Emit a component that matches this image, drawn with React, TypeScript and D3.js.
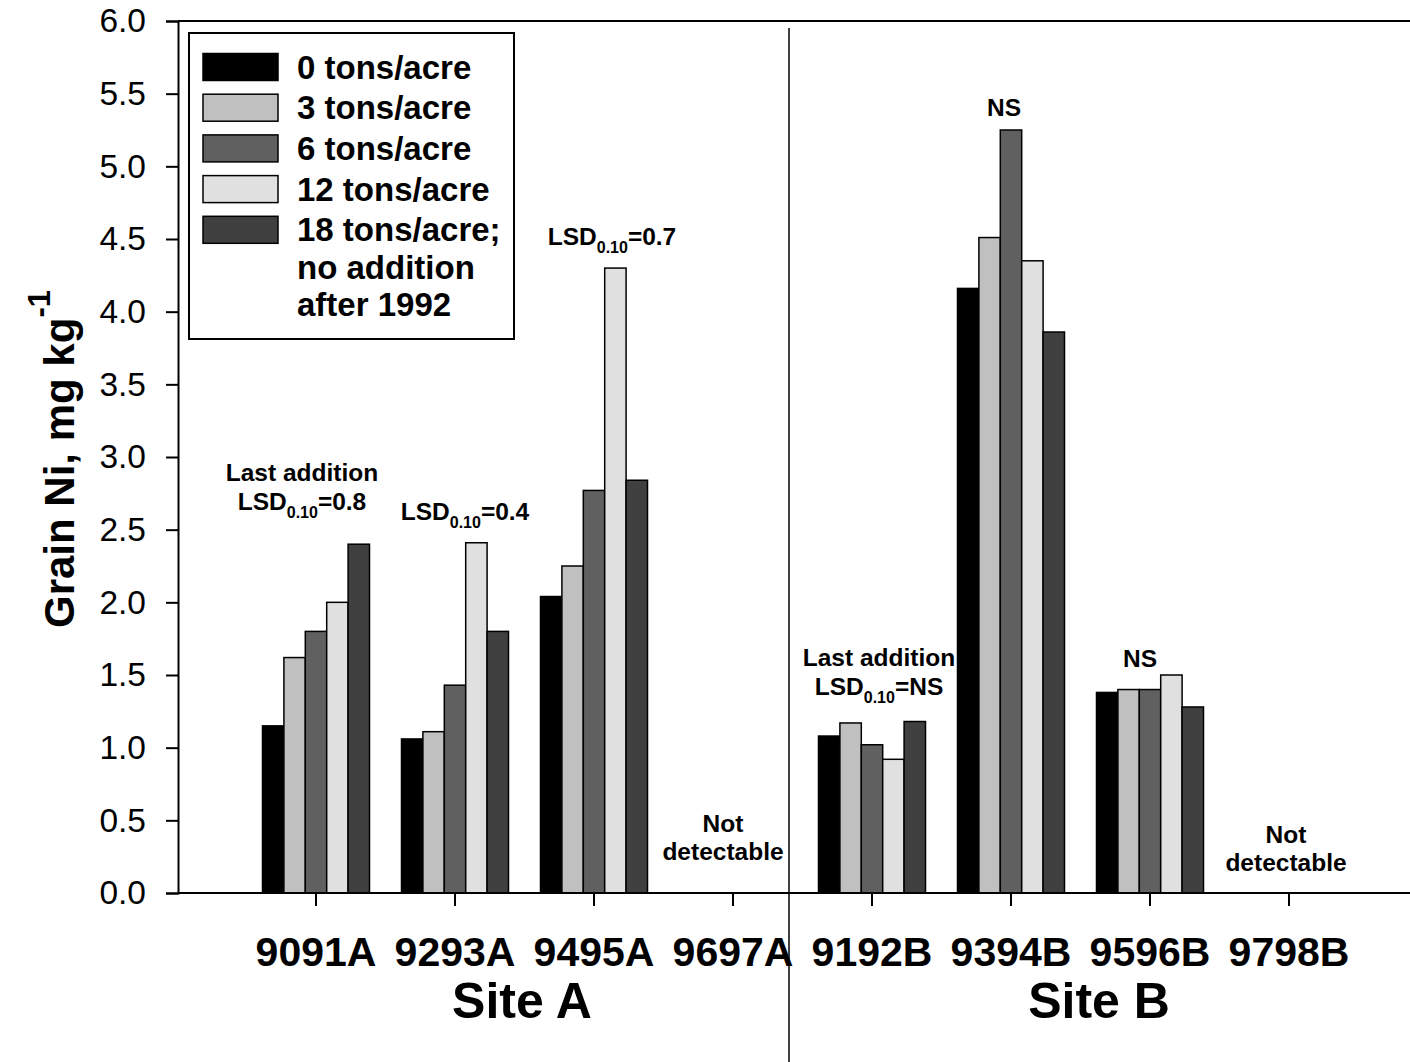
import { useRef, useEffect } from 'react';
import * as d3 from 'd3';

const categories = ['9091A', '9293A', '9495A', '9697A', '9192B', '9394B', '9596B', '9798B'];
const seriesNames = ['0 tons/acre', '3 tons/acre', '6 tons/acre', '12 tons/acre', '18 tons/acre;'];
const seriesColors = ['#000000', '#c0c0c0', '#606060', '#e0e0e0', '#404040'];

// null = not detectable
const tons0 = [1.15, 1.06, 2.04, null, 1.08, 4.16, 1.38, null];
const tons3 = [1.62, 1.11, 2.25, null, 1.17, 4.51, 1.40, null];
const tons6 = [1.80, 1.43, 2.77, null, 1.02, 5.25, 1.40, null];
const tons12 = [2.00, 2.41, 4.30, null, 0.92, 4.35, 1.50, null];
const tons18 = [2.40, 1.80, 2.84, null, 1.18, 3.86, 1.28, null];
const seriesValues = [tons0, tons3, tons6, tons12, tons18];

const yTicks = [0, 0.5, 1, 1.5, 2, 2.5, 3, 3.5, 4, 4.5, 5, 5.5, 6];

// annotations: category, x offset from group centre, baseline y, lines
const notes = [
  { cat: '9091A', dx: -14, y: 481, text: 'Last addition' },
  { cat: '9091A', dx: -14, y: 510, lsd: '0.8' },
  { cat: '9293A', dx: 10, y: 520, lsd: '0.4' },
  { cat: '9495A', dx: 18, y: 245, lsd: '0.7' },
  { cat: '9697A', dx: -10, y: 832, text: 'Not' },
  { cat: '9697A', dx: -10, y: 860, text: 'detectable' },
  { cat: '9192B', dx: 7, y: 666, text: 'Last addition' },
  { cat: '9192B', dx: 7, y: 695, lsd: 'NS' },
  { cat: '9394B', dx: -7, y: 116, text: 'NS' },
  { cat: '9596B', dx: -10, y: 667, text: 'NS' },
  { cat: '9798B', dx: -3, y: 843, text: 'Not' },
  { cat: '9798B', dx: -3, y: 871, text: 'detectable' },
];

const FONT = '"Liberation Sans", Arial, sans-serif';

const App = () => {
  const ref = useRef(null);

  useEffect(() => {
    const svg = d3.select(ref.current);
    svg.selectAll('*').remove();
    svg.style('font-family', FONT);

    const left = 178;
    const right = 1410;
    const step = 139;
    const firstCenter = 316;

    const x0 = d3.scaleBand()
      .domain(categories)
      .range([firstCenter - step / 2, firstCenter - step / 2 + step * categories.length])
      .padding(0);

    const groupW = 107;
    const x1 = d3.scaleBand()
      .domain(seriesNames)
      .range([0, groupW])
      .padding(0);

    const y = d3.scaleLinear().domain([0, 6]).range([893, 21]);

    // bars
    seriesValues.forEach((vals, si) => {
      svg.append('g')
        .selectAll('rect')
        .data(vals.map((v, i) => ({ v, c: categories[i] })).filter(d => d.v !== null))
        .enter().append('rect')
        .attr('x', d => x0(d.c) + (step - groupW) / 2 + x1(seriesNames[si]))
        .attr('y', d => y(d.v))
        .attr('width', x1.bandwidth())
        .attr('height', d => y(0) - y(d.v))
        .attr('fill', seriesColors[si])
        .attr('stroke', '#000')
        .attr('stroke-width', 1.5);
    });

    // frame lines
    svg.append('line')
      .attr('x1', left).attr('x2', right)
      .attr('y1', y(6)).attr('y2', y(6))
      .attr('stroke', '#000').attr('stroke-width', 2);
    svg.append('line')
      .attr('x1', left).attr('x2', right)
      .attr('y1', y(0)).attr('y2', y(0))
      .attr('stroke', '#000').attr('stroke-width', 2);

    // y axis
    const yAxis = svg.append('g')
      .attr('transform', `translate(${left},0)`)
      .call(d3.axisLeft(y).tickValues(yTicks).tickFormat(d3.format('.1f')).tickSize(12).tickPadding(20));
    yAxis.select('.domain').attr('stroke-width', 2);
    yAxis.selectAll('line').attr('stroke-width', 2);
    yAxis.selectAll('text')
      .style('font-size', '33.5px')
      .style('font-family', FONT)
      .attr('fill', '#000');

    // x axis
    const xAxis = svg.append('g')
      .attr('transform', `translate(0,${y(0)})`)
      .call(d3.axisBottom(x0).tickSize(13).tickPadding(31));
    xAxis.select('.domain').remove();
    xAxis.selectAll('line').attr('stroke-width', 2);
    xAxis.selectAll('text')
      .style('font-size', '41px')
      .style('font-weight', 'bold')
      .style('font-family', FONT)
      .attr('fill', '#000');

    // site divider
    svg.append('line')
      .attr('x1', 789).attr('x2', 789)
      .attr('y1', 28).attr('y2', 1062)
      .attr('stroke', '#000').attr('stroke-width', 1.5);

    // site labels
    svg.append('text')
      .attr('x', 522).attr('y', 1018)
      .attr('text-anchor', 'middle')
      .style('font-size', '50px').style('font-weight', 'bold')
      .text('Site A');
    svg.append('text')
      .attr('x', 1099).attr('y', 1018)
      .attr('text-anchor', 'middle')
      .style('font-size', '50px').style('font-weight', 'bold')
      .text('Site B');

    // y title
    const yt = svg.append('text')
      .attr('transform', 'translate(74,628) rotate(-90)')
      .attr('text-anchor', 'start')
      .style('font-size', '42px').style('font-weight', 'bold');
    yt.append('tspan').text('Grain Ni, mg kg');
    yt.append('tspan').attr('dy', -24).style('font-size', '31px').text('-1');

    // annotations
    notes.forEach(n => {
      const cx = x0(n.cat) + step / 2 + n.dx;
      const t = svg.append('text')
        .attr('x', cx).attr('y', n.y)
        .attr('text-anchor', 'middle')
        .style('font-size', '24.5px').style('font-weight', 'bold');
      if (n.lsd) {
        t.append('tspan').text('LSD');
        t.append('tspan').attr('dy', 8).style('font-size', '16px').text('0.10');
        t.append('tspan').attr('dy', -8).text('=' + n.lsd);
      } else {
        t.text(n.text);
      }
    });

    // legend
    const lg = svg.append('g');
    lg.append('rect')
      .attr('x', 189).attr('y', 33)
      .attr('width', 325).attr('height', 306)
      .attr('fill', '#fff').attr('stroke', '#000').attr('stroke-width', 2);
    const rowH = 40.7;
    seriesNames.forEach((name, i) => {
      const cy = 67 + i * rowH;
      lg.append('rect')
        .attr('x', 203).attr('y', cy - 13.5)
        .attr('width', 75).attr('height', 27)
        .attr('fill', seriesColors[i])
        .attr('stroke', '#000').attr('stroke-width', 1.5);
      lg.append('text')
        .attr('x', 297).attr('y', cy + 11.5)
        .style('font-size', '33px').style('font-weight', 'bold')
        .text(name);
    });
    ['no addition', 'after 1992'].forEach((s, i) => {
      lg.append('text')
        .attr('x', 297).attr('y', 279 + i * 37)
        .style('font-size', '33px').style('font-weight', 'bold')
        .text(s);
    });
  }, []);

  return (
    <svg
      ref={ref}
      width={1410}
      height={1062}
      style={{ position: 'absolute', left: 0, top: 0, background: '#fff' }}
    ></svg>
  );
};

export default App;
